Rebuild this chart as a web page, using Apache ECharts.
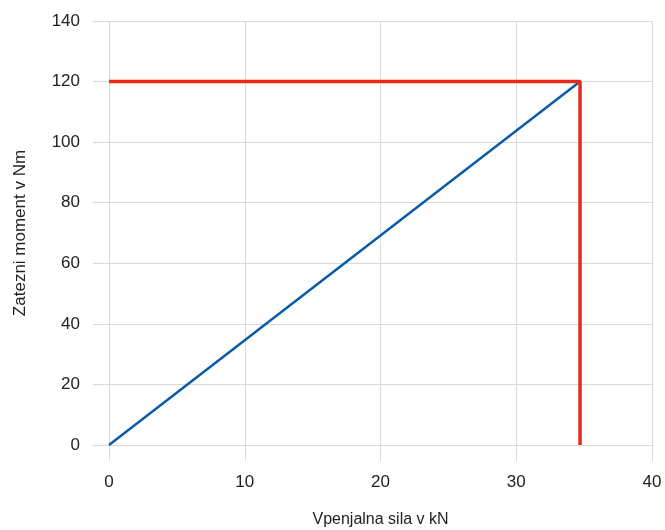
<!DOCTYPE html>
<html>
<head>
<meta charset="utf-8">
<script src="https://cdn.jsdelivr.net/npm/echarts@6/dist/echarts.min.js"></script>
<style>
html,body{margin:0;padding:0;background:#fff;}
#chart{width:665px;height:530px;}
</style>
</head>
<body>
<div id="chart"></div>
<script>
//os x: vpenjalna sila (kN), os y: zatezni moment (Nm)
var xTicks = [0, 10, 20, 30, 40];
var yTicks = [0, 20, 40, 60, 80, 100, 120, 140];
//modra premica
var lineData = [[0, 0], [34.7, 120]];
//rdeca oznaka
var markData = [[0, 120], [34.7, 120], [34.7, 0]];

var font = '"Liberation Sans", Arial, sans-serif';

var myChart = echarts.init(document.getElementById('chart'));
var option = {
    animation: false,
    grid: {left: 109, right: 13, top: 21, bottom: 85, outerBoundsMode: 'none'},
    xAxis: {
        type: 'value',
        min: xTicks[0],
        max: xTicks[xTicks.length - 1],
        interval: 10,
        name: 'Vpenjalna sila v kN',
        nameLocation: 'middle',
        nameGap: 67,
        nameTextStyle: {color: '#222', fontSize: 16, fontFamily: font},
        axisLine: {show: false},
        axisTick: {show: true, length: 16, lineStyle: {color: '#d9d9d9'}},
        axisLabel: {color: '#222', fontSize: 17, fontFamily: font, margin: 29},
        splitLine: {lineStyle: {color: '#d9d9d9', width: 1}}
    },
    yAxis: {
        type: 'value',
        min: yTicks[0],
        max: yTicks[yTicks.length - 1],
        interval: 20,
        name: 'Zatezni moment v Nm',
        nameLocation: 'middle',
        nameGap: 80,
        nameTextStyle: {color: '#222', fontSize: 17, fontFamily: font},
        axisLine: {show: false},
        axisTick: {show: true, length: 16, lineStyle: {color: '#d9d9d9'}},
        axisLabel: {color: '#222', fontSize: 17, fontFamily: font, margin: 29},
        splitLine: {lineStyle: {color: '#d9d9d9', width: 1}}
    },
    series: [
        {
            type: 'line',
            data: lineData,
            symbol: 'none',
            lineStyle: {color: '#0b5ba8', width: 2.5}
        },
        {
            type: 'line',
            data: markData,
            symbol: 'none',
            lineStyle: {color: '#e8291c', width: 3.5}
        }
    ]
};
myChart.setOption(option);
</script>
</body>
</html>
